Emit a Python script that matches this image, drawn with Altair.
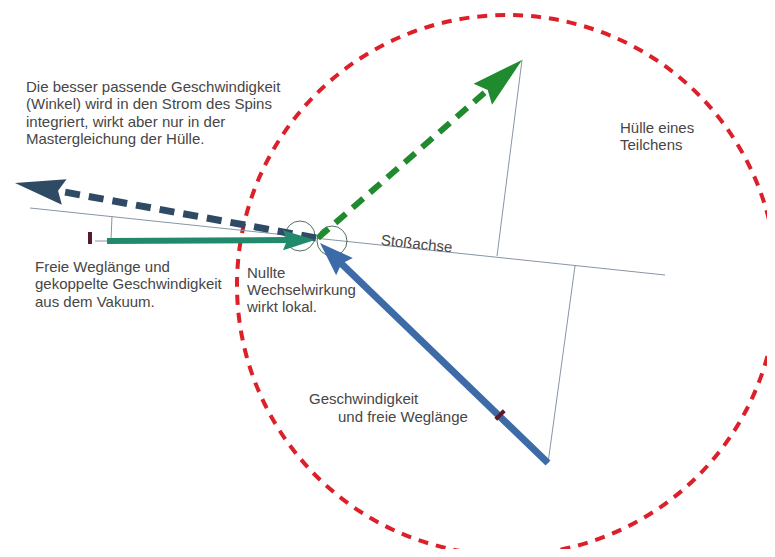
import math
import altair as alt
import pandas as pd

# ---------------- geometry of the diagram (pixel-like units, y downwards) -------------
# red dashed envelope "Hülle eines Teilchens"
huelle_x = [507]
huelle_y = [285]
huelle_r = [270]

# two small interaction circles at the collision point
kreis_x = [300, 332]
kreis_y = [236, 241]
kreis_r = [15, 15]

# thin construction lines: Stoßachse and perpendicular projections
duenn_x = [30, 95, 112, 522, 548]
duenn_y = [208, 241, 216, 60, 463]
duenn_x2 = [665, 107, 111, 497, 575]
duenn_y2 = [275, 241, 240, 256, 266]

# arrows: start point and tip
pfeil_namen = ["Rückstrom", "Ausgang", "Vakuum", "Geschwindigkeit"]
pfeil_x0 = [316, 318, 107, 548]
pfeil_y0 = [238, 238, 241, 463]
pfeil_x1 = [15, 522, 315, 320]
pfeil_y1 = [183, 60, 240, 243]

# small markers (free path length marks)
marke_x = [90, 500]
marke_y = [238, 415]
marke_richtung = [0, 45]

# text blocks
text_zeilen = [
    "Die besser passende Geschwindigkeit",
    "(Winkel) wird in den Strom des Spins",
    "integriert, wirkt aber nur in der",
    "Mastergleichung der Hülle.",
    "Freie Weglänge und",
    "gekoppelte Geschwindigkeit",
    "aus dem Vakuum.",
    "Nullte",
    "Wechselwirkung",
    "wirkt lokal.",
    "Hülle eines",
    "Teilchens",
    "Geschwindigkeit",
    "und freie Weglänge",
]
text_x = [26, 26, 26, 26, 35, 35, 35, 247, 247, 247, 620, 620, 309, 338]
text_y = [87, 104, 122, 139, 267, 284, 302, 273, 290, 307, 128, 145, 399, 417]

achse_text = ["Stoßachse"]
achse_text_x = [381]
achse_text_y = [240]

# ---------------- styles -------------
W, H = 759, 541
XS = alt.Scale(domain=[8, 8 + W], nice=False, zero=False)
YS = alt.Scale(domain=[8, 8 + H], nice=False, zero=False, reverse=True)

pfeil_farbe = ["#2f4a64", "#1f8a2e", "#23896c", "#3d6ba8"]
pfeil_strich = [[15, 9], [14, 9], None, None]
pfeil_breite = [7, 6, 6, 7]
kopf_laenge = [50, 52, 32, 34]
kopf_breite = [26, 28, 20, 24]
TEXT_FARBE = "#464646"
FONT = "Liberation Sans"
FS = 15


def X(f="x"):
    return alt.X(f, type="quantitative", scale=XS, axis=None)


def Y(f="y"):
    return alt.Y(f, type="quantitative", scale=YS, axis=None)


layers = []

# envelope circle
df_h = pd.DataFrame({"x": huelle_x, "y": huelle_y, "r": huelle_r})
layers.append(
    alt.Chart(df_h)
    .mark_point(shape="circle", filled=False, size=(2 * huelle_r[0]) ** 2,
                stroke="#dc1f28", strokeWidth=4, strokeDash=[10, 8], opacity=1, clip=True)
    .encode(x=X(), y=Y())
)

# thin lines
df_d = pd.DataFrame({"x": duenn_x, "y": duenn_y, "x2": duenn_x2, "y2": duenn_y2})
layers.append(
    alt.Chart(df_d)
    .mark_rule(color="#8795a5", strokeWidth=1, clip=True)
    .encode(x=X(), y=Y(), x2="x2", y2="y2")
)

# small circles
df_k = pd.DataFrame({"x": kreis_x, "y": kreis_y})
layers.append(
    alt.Chart(df_k)
    .mark_point(shape="circle", filled=False, size=(2 * kreis_r[0]) ** 2,
                stroke="#4f6f5f", strokeWidth=1, opacity=1, clip=True)
    .encode(x=X(), y=Y())
)

# arrows
for i in range(len(pfeil_namen)):
    x0, y0, x1, y1 = pfeil_x0[i], pfeil_y0[i], pfeil_x1[i], pfeil_y1[i]
    dx, dy = x1 - x0, y1 - y0
    n = math.hypot(dx, dy)
    ux, uy = dx / n, dy / n
    L = kopf_laenge[i]
    # shaft ends inside the head
    sx, sy = x1 - ux * L * 0.7, y1 - uy * L * 0.7
    df_s = pd.DataFrame({"x": [x0], "y": [y0], "x2": [sx], "y2": [sy], "pfeil": [pfeil_namen[i]]})
    kw = dict(color=pfeil_farbe[i], strokeWidth=pfeil_breite[i], clip=True)
    if pfeil_strich[i]:
        kw["strokeDash"] = pfeil_strich[i]
    layers.append(alt.Chart(df_s).mark_rule(**kw).encode(x=X(), y=Y(), x2="x2", y2="y2"))
    # head: symbol centred half a head length behind the tip
    cx, cy = x1 - ux * L / 2, y1 - uy * L / 2
    ang = math.degrees(math.atan2(ux, -uy)) % 360
    hw = kopf_breite[i] / 2 / (L / 2)
    path = f"M0,-1L{hw:.3f},1L0,0.75L{-hw:.3f},1Z"
    df_p = pd.DataFrame({"x": [cx], "y": [cy], "pfeil": [pfeil_namen[i]]})
    layers.append(
        alt.Chart(df_p)
        .mark_point(shape=path, filled=True, size=L * L, angle=ang,
                    color=pfeil_farbe[i], opacity=1, strokeWidth=0, clip=True)
        .encode(x=X(), y=Y())
    )

# markers
for i in range(len(marke_x)):
    df_m = pd.DataFrame({"x": [marke_x[i]], "y": [marke_y[i]]})
    layers.append(
        alt.Chart(df_m)
        .mark_point(shape="M-0.33,-1L0.33,-1L0.33,1L-0.33,1Z", filled=True, size=144,
                    angle=marke_richtung[i], color="#5a1a2e", opacity=1, strokeWidth=0)
        .encode(x=X(), y=Y())
    )

# texts
df_t = pd.DataFrame({"x": text_x, "y": text_y, "t": text_zeilen})
layers.append(
    alt.Chart(df_t)
    .mark_text(align="left", baseline="middle", font=FONT, fontSize=FS, color=TEXT_FARBE)
    .encode(x=X(), y=Y(), text="t")
)
df_a = pd.DataFrame({"x": achse_text_x, "y": achse_text_y, "t": achse_text})
layers.append(
    alt.Chart(df_a)
    .mark_text(align="left", baseline="middle", font=FONT, fontSize=FS, color=TEXT_FARBE, angle=6)
    .encode(x=X(), y=Y(), text="t")
)

chart = (
    alt.layer(*layers)
    .properties(width=W, height=H, padding=0, autosize=alt.AutoSizeParams(type="none"))
    .configure_view(stroke=None)
)

chart.save("out.html", embed_options={"renderer": "svg", "actions": False})
